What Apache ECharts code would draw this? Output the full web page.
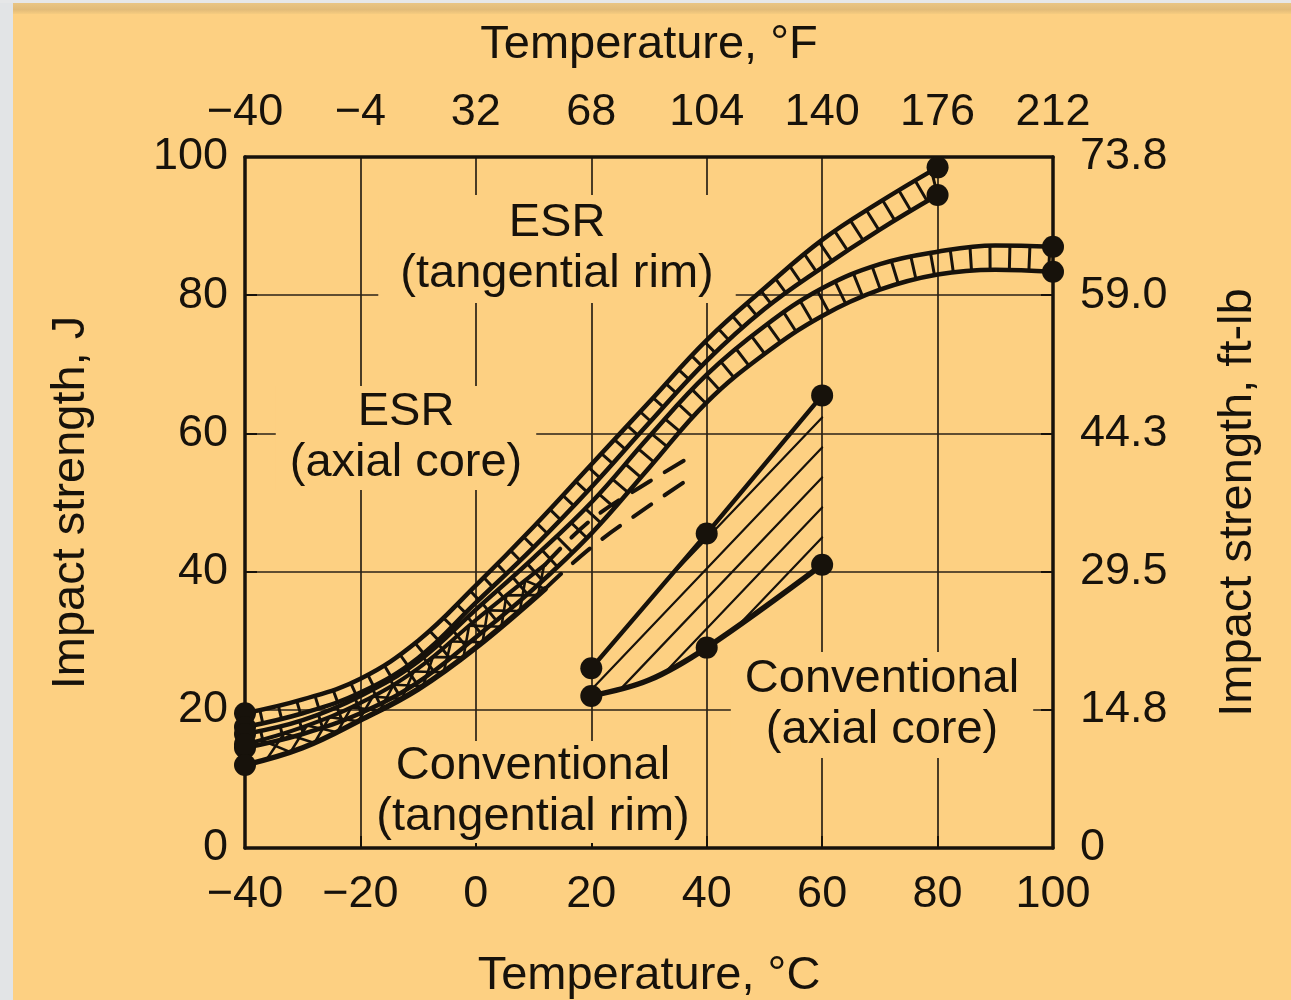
<!DOCTYPE html>
<html>
<head>
<meta charset="utf-8">
<script src="https://cdn.jsdelivr.net/npm/echarts@6/dist/echarts.min.js"></script>
<style>
html,body{margin:0;padding:0;background:#e4e6e8;}
#chart{width:1291px;height:1000px;}
</style>
</head>
<body>
<div id="chart"></div>
<script>
// ---------------- DATA ----------------
const celsiusTicks = [-40, -20, 0, 20, 40, 60, 80, 100];
const celsiusLabels = ['\u221240', '\u221220', '0', '20', '40', '60', '80', '100'];
const fahrenheitLabels = ['\u221240', '\u22124', '32', '68', '104', '140', '176', '212'];
const joulesTicks = [0, 20, 40, 60, 80, 100];
const joulesLabels = ['0', '20', '40', '60', '80', '100'];
const ftlbLabels = ['0', '14.8', '29.5', '44.3', '59.0', '73.8'];

// ESR, tangential rim (hatched band)
const esrRimTemp  = [-40, -30, -20, -10, 0, 10, 20, 30, 40, 50, 60, 70, 80];
const esrRimUpper = [19.5, 21.5, 24.5, 30, 38, 46.5, 55.5, 64.5, 73.5, 81, 88, 93.5, 98.5];
const esrRimLower = [17.5, 19.5, 22.5, 27.5, 35.5, 43.5, 52.2, 61.5, 70.5, 78, 84, 89.5, 94.5];

// ESR, axial core (hatched band)
const esrCoreTemp  = [-40, -30, -20, -10, 0, 10, 20, 30, 40, 50, 60, 70, 80, 90, 100];
const esrCoreUpper = [16.5, 18.5, 22, 27, 34.5, 42, 50, 59.5, 68.5, 75.5, 81, 84.5, 86.3, 87.2, 87];
const esrCoreLower = [14.5, 16.5, 19.5, 24, 30.5, 37.5, 45.5, 55, 64.5, 71.5, 77, 80.8, 83, 83.7, 83.4];

// Conventional, tangential rim (cross-hatched band + dashed continuation)
const convRimTemp  = [-40, -30, -20, -10, 0, 12];
const convRimUpper = [15, 17.5, 21, 26, 33, 41];
const convRimLower = [12, 14.5, 18.5, 23, 29, 37.5];
const convRimExtTemp  = [12, 20, 30, 38];
const convRimExtUpper = [41, 47.5, 53, 57];
const convRimExtLower = [37.5, 43.5, 49.5, 54];

// Conventional, axial core (diagonally hatched region)
const convCoreTemp  = [20, 40, 60];
const convCoreUpper = [26, 45.5, 65.5];
const convCoreLowerTemp = [20, 30, 40, 60];
const convCoreLower = [22, 24.3, 29, 41];

// ---------------- helpers ----------------
const INK = '#17120b';
const BG = '#FDD082';
const FONT = '"Liberation Sans", Arial, Helvetica, sans-serif';
const SMOOTH = 0.4;

function zip(xs, ys) { return xs.map((x, i) => [x, ys[i]]); }

// same smoothing as ECharts line series, sampled to a polyline
function bezierSample(pts, smooth) {
  if (!(smooth > 0)) return pts.slice();
  const out = [pts[0]];
  let cp0x = pts[0][0], cp0y = pts[0][1];
  for (let i = 1; i < pts.length; i++) {
    const x = pts[i][0], y = pts[i][1];
    const px = pts[i - 1][0], py = pts[i - 1][1];
    let cp1x, cp1y, ncx = x, ncy = y;
    if (i === pts.length - 1) { cp1x = x; cp1y = y; }
    else {
      const nx = pts[i + 1][0], ny = pts[i + 1][1];
      let vx = nx - px, vy = ny - py;
      const lp = Math.hypot(x - px, y - py), ln = Math.hypot(nx - x, ny - y);
      const r = ln / (ln + lp);
      ncx = x + vx * smooth * r; ncy = y + vy * smooth * r;
      ncx = Math.min(ncx, Math.max(nx, x)); ncy = Math.min(ncy, Math.max(ny, y));
      ncx = Math.max(ncx, Math.min(nx, x)); ncy = Math.max(ncy, Math.min(ny, y));
      vx = ncx - x; vy = ncy - y;
      cp1x = x - vx * lp / ln; cp1y = y - vy * lp / ln;
      cp1x = Math.min(cp1x, Math.max(px, x)); cp1y = Math.min(cp1y, Math.max(py, y));
      cp1x = Math.max(cp1x, Math.min(px, x)); cp1y = Math.max(cp1y, Math.min(py, y));
      vx = x - cp1x; vy = y - cp1y;
      ncx = x + vx * ln / lp; ncy = y + vy * ln / lp;
    }
    const N = 30;
    for (let k = 1; k <= N; k++) {
      const t = k / N, u = 1 - t;
      const bx = u*u*u*px + 3*u*u*t*cp0x + 3*u*t*t*cp1x + t*t*t*x;
      const by = u*u*u*py + 3*u*u*t*cp0y + 3*u*t*t*cp1y + t*t*t*y;
      out.push([bx, by]);
    }
    cp0x = ncx; cp0y = ncy;
  }
  return out;
}

function nearestOn(P, poly) {
  let best = Infinity, bq = null;
  for (let i = 1; i < poly.length; i++) {
    const a = poly[i - 1], b = poly[i];
    const dx = b[0] - a[0], dy = b[1] - a[1];
    const L2 = dx * dx + dy * dy;
    let t = L2 > 0 ? ((P[0] - a[0]) * dx + (P[1] - a[1]) * dy) / L2 : 0;
    t = Math.max(0, Math.min(1, t));
    const q = [a[0] + dx * t, a[1] + dy * t];
    const d = Math.hypot(P[0] - q[0], P[1] - q[1]);
    if (d < best) { best = d; bq = q; }
  }
  return bq;
}

function rungs(U, L, gap, offset) {
  const res = [];
  let acc = 0, next = offset;
  for (let i = 1; i < U.length; i++) {
    const a = U[i - 1], b = U[i];
    const seg = Math.hypot(b[0] - a[0], b[1] - a[1]);
    while (acc + seg >= next) {
      const t = (next - acc) / seg;
      const P = [a[0] + (b[0] - a[0]) * t, a[1] + (b[1] - a[1]) * t];
      res.push([P, nearestOn(P, L)]);
      next += gap;
    }
    acc += seg;
  }
  return res;
}

function seg(p, q, w) {
  return { type: 'line', shape: { x1: p[0], y1: p[1], x2: q[0], y2: q[1] },
           style: { stroke: INK, lineWidth: w, lineCap: 'round' } };
}

function ladderRender(xs, up, lo, gap, w) {
  return function (params, api) {
    const U = bezierSample(zip(xs, up).map(p => api.coord(p)), SMOOTH);
    const L = bezierSample(zip(xs, lo).map(p => api.coord(p)), SMOOTH);
    const children = rungs(U, L, gap, gap * 0.8).map(r => seg(r[0], r[1], w));
    return { type: 'group', children: children };
  };
}

function crossRender(xs, up, lo, gap, w) {
  return function (params, api) {
    const U = bezierSample(zip(xs, up).map(p => api.coord(p)), SMOOTH);
    const L = bezierSample(zip(xs, lo).map(p => api.coord(p)), SMOOTH);
    const R = rungs(U, L, gap, gap * 0.7);
    const children = [];
    for (let i = 0; i + 1 < R.length; i++) {
      children.push(seg(R[i][0], R[i + 1][1], w));
      children.push(seg(R[i][1], R[i + 1][0], w));
    }
    return { type: 'group', children: children };
  };
}

function diagRender(params, api) {
  const U = zip(convCoreTemp, convCoreUpper).map(p => api.coord(p));
  const L = bezierSample(zip(convCoreLowerTemp, convCoreLower).map(p => api.coord(p)), 0.35);
  const poly = U.concat(L.slice().reverse());
  const top = U[U.length - 1];
  const slope = 1.05;                     // pixel rise per pixel run
  const n = Math.hypot(1, slope);
  const d = [1 / n, -slope / n];
  const children = [];
  for (let k = -15; k < 30; k++) {
    const A = [top[0], top[1] + 22 + 30 * k];   // anchor on right edge
    const hits = [];
    for (let i = 0; i < poly.length; i++) {
      const p = poly[i], q = poly[(i + 1) % poly.length];
      const ex = q[0] - p[0], ey = q[1] - p[1];
      const den = d[0] * ey - d[1] * ex;
      if (Math.abs(den) < 1e-9) continue;
      const wx = p[0] - A[0], wy = p[1] - A[1];
      const s = (wx * ey - wy * ex) / den;
      const u = (wx * d[1] - wy * d[0]) / den;
      if (u >= 0 && u < 1) hits.push(s);
    }
    hits.sort((a, b) => a - b);
    for (let j = 0; j + 1 < hits.length; j += 2) {
      const p1 = [A[0] + d[0] * hits[j], A[1] + d[1] * hits[j]];
      const p2 = [A[0] + d[0] * hits[j + 1], A[1] + d[1] * hits[j + 1]];
      if (Math.hypot(p2[0] - p1[0], p2[1] - p1[1]) > 4) children.push(seg(p1, p2, 2.2));
    }
  }
  return { type: 'group', children: children };
}

// dots at the curve ends and measured points
const dots = [];
[[esrRimTemp, esrRimUpper], [esrRimTemp, esrRimLower],
 [esrCoreTemp, esrCoreUpper], [esrCoreTemp, esrCoreLower]].forEach(([xs, ys]) => {
  dots.push([xs[0], ys[0]]);
  dots.push([xs[xs.length - 1], ys[ys.length - 1]]);
});
dots.push([convRimTemp[0], convRimUpper[0]], [convRimTemp[0], convRimLower[0]]);
convCoreTemp.forEach((x, i) => dots.push([x, convCoreUpper[i]]));
convCoreLowerTemp.forEach((x, i) => { if (convCoreTemp.indexOf(x) >= 0) dots.push([x, convCoreLower[i]]); });

function lineSeries(xs, ys, w, smooth, type) {
  return { type: 'line', data: zip(xs, ys), smooth: smooth, showSymbol: false, symbol: 'none',
           z: 3, silent: true, lineStyle: { color: INK, width: w, type: type || 'solid', cap: 'round', join: 'round' } };
}
function customSeries(render) {
  return { type: 'custom', data: [[0, 0]], renderItem: render, clip: false, z: 2, silent: true };
}

const labelStyle = { color: INK, fontSize: 45, fontFamily: FONT };
const nameStyle = { color: INK, fontSize: 47, fontFamily: FONT };
const axisLine = { show: true, onZero: false, lineStyle: { color: INK, width: 3.5 } };
const gridLine = { show: true, lineStyle: { color: '#2a2216', width: 1.7 } };
const tick = { show: true, inside: true, length: 12, lineStyle: { color: INK, width: 2 } };

const chart = echarts.init(document.getElementById('chart'), null, { renderer: 'canvas' });
const option = {
  animation: false,
  backgroundColor: BG,
  grid: { left: 245, right: 238, top: 157, bottom: 152, containLabel: false, outerBoundsMode: 'none' },
  xAxis: [
    { type: 'value', position: 'bottom', min: -40, max: 100, interval: 20,
      name: 'Temperature, \u00B0C', nameLocation: 'middle', nameGap: 105, nameTextStyle: nameStyle,
      axisLine: axisLine, axisTick: tick,
      axisLabel: Object.assign({ margin: 24, formatter: v => celsiusLabels[celsiusTicks.indexOf(v)] }, labelStyle),
      splitLine: gridLine },
    { type: 'value', position: 'top', min: -40, max: 100, interval: 20,
      name: 'Temperature, \u00B0F', nameLocation: 'middle', nameGap: 88, nameTextStyle: nameStyle,
      axisLine: axisLine, axisTick: { show: false },
      axisLabel: Object.assign({ margin: 22, formatter: v => fahrenheitLabels[celsiusTicks.indexOf(v)] }, labelStyle),
      splitLine: { show: false } }
  ],
  yAxis: [
    { type: 'value', position: 'left', min: 0, max: 100, interval: 20,
      name: 'Impact strength, J', nameLocation: 'middle', nameGap: 150, nameRotate: 90, nameTextStyle: nameStyle,
      axisLine: axisLine, axisTick: tick,
      axisLabel: Object.assign({ margin: 17, formatter: v => joulesLabels[joulesTicks.indexOf(v)] }, labelStyle),
      splitLine: gridLine },
    { type: 'value', position: 'right', min: 0, max: 100, interval: 20,
      name: 'Impact strength, ft-lb', nameLocation: 'middle', nameGap: 162, nameRotate: 90, nameTextStyle: nameStyle,
      axisLine: axisLine, axisTick: tick,
      axisLabel: Object.assign({ margin: 27, formatter: v => ftlbLabels[joulesTicks.indexOf(v)] }, labelStyle),
      splitLine: { show: false } }
  ],
  graphic: [
    { type: 'rect', z: 10, shape: { x: 0, y: 0, width: 13, height: 1000 }, style: { fill: '#e2e4e6' } },
    { type: 'rect', z: 10, shape: { x: 0, y: 0, width: 1291, height: 3 }, style: { fill: '#e6e7e8' } },
    { type: 'rect', z: 10, shape: { x: 13, y: 3, width: 1278, height: 11 },
      style: { fill: new echarts.graphic.LinearGradient(0, 0, 0, 1, [
        { offset: 0, color: '#e9c584' }, { offset: 0.6, color: '#e2bb78' }, { offset: 1, color: '#f6cc80' }]) } },
    { type: 'text', z: 1, x: 557, y: 249, style: { text: 'ESR\n(tangential rim)', font: '47px ' + FONT, fill: INK,
      align: 'center', verticalAlign: 'middle', lineHeight: 51, backgroundColor: BG, padding: [3, 22] } },
    { type: 'text', z: 1, x: 406, y: 438, style: { text: 'ESR\n(axial core)', font: '47px ' + FONT, fill: INK,
      align: 'center', verticalAlign: 'middle', lineHeight: 51, backgroundColor: BG, padding: [1, 14] } },
    { type: 'text', z: 1, x: 533, y: 792, style: { text: 'Conventional\n(tangential rim)', font: '47px ' + FONT, fill: INK,
      align: 'center', verticalAlign: 'middle', lineHeight: 51, backgroundColor: BG, padding: [0, 10] } },
    { type: 'text', z: 1, x: 882, y: 705, style: { text: 'Conventional\n(axial core)', font: '47px ' + FONT, fill: INK,
      align: 'center', verticalAlign: 'middle', lineHeight: 51, backgroundColor: BG, padding: [2, 14] } }
  ],
  series: [
    customSeries(ladderRender(esrRimTemp, esrRimUpper, esrRimLower, 19, 3)),
    customSeries(ladderRender(esrCoreTemp, esrCoreUpper, esrCoreLower, 20, 3)),
    customSeries(crossRender(convRimTemp, convRimUpper, convRimLower, 24, 2.6)),
    customSeries(diagRender),
    lineSeries(esrRimTemp, esrRimUpper, 4.5, SMOOTH),
    lineSeries(esrRimTemp, esrRimLower, 4.5, SMOOTH),
    lineSeries(esrCoreTemp, esrCoreUpper, 4.5, SMOOTH),
    lineSeries(esrCoreTemp, esrCoreLower, 4.5, SMOOTH),
    lineSeries(convRimTemp, convRimUpper, 4, SMOOTH),
    lineSeries(convRimTemp, convRimLower, 5.5, SMOOTH),
    lineSeries(convRimExtTemp, convRimExtUpper, 4, SMOOTH, [22, 16]),
    lineSeries(convRimExtTemp, convRimExtLower, 4, SMOOTH, [22, 16]),
    lineSeries(convCoreTemp, convCoreUpper, 4.5, false),
    lineSeries(convCoreLowerTemp, convCoreLower, 5.5, 0.35),
    { type: 'scatter', data: dots, symbol: 'circle', symbolSize: 22, z: 4,
      itemStyle: { color: INK, opacity: 1 }, silent: true }
  ]
};
chart.setOption(option);
</script>
</body>
</html>
